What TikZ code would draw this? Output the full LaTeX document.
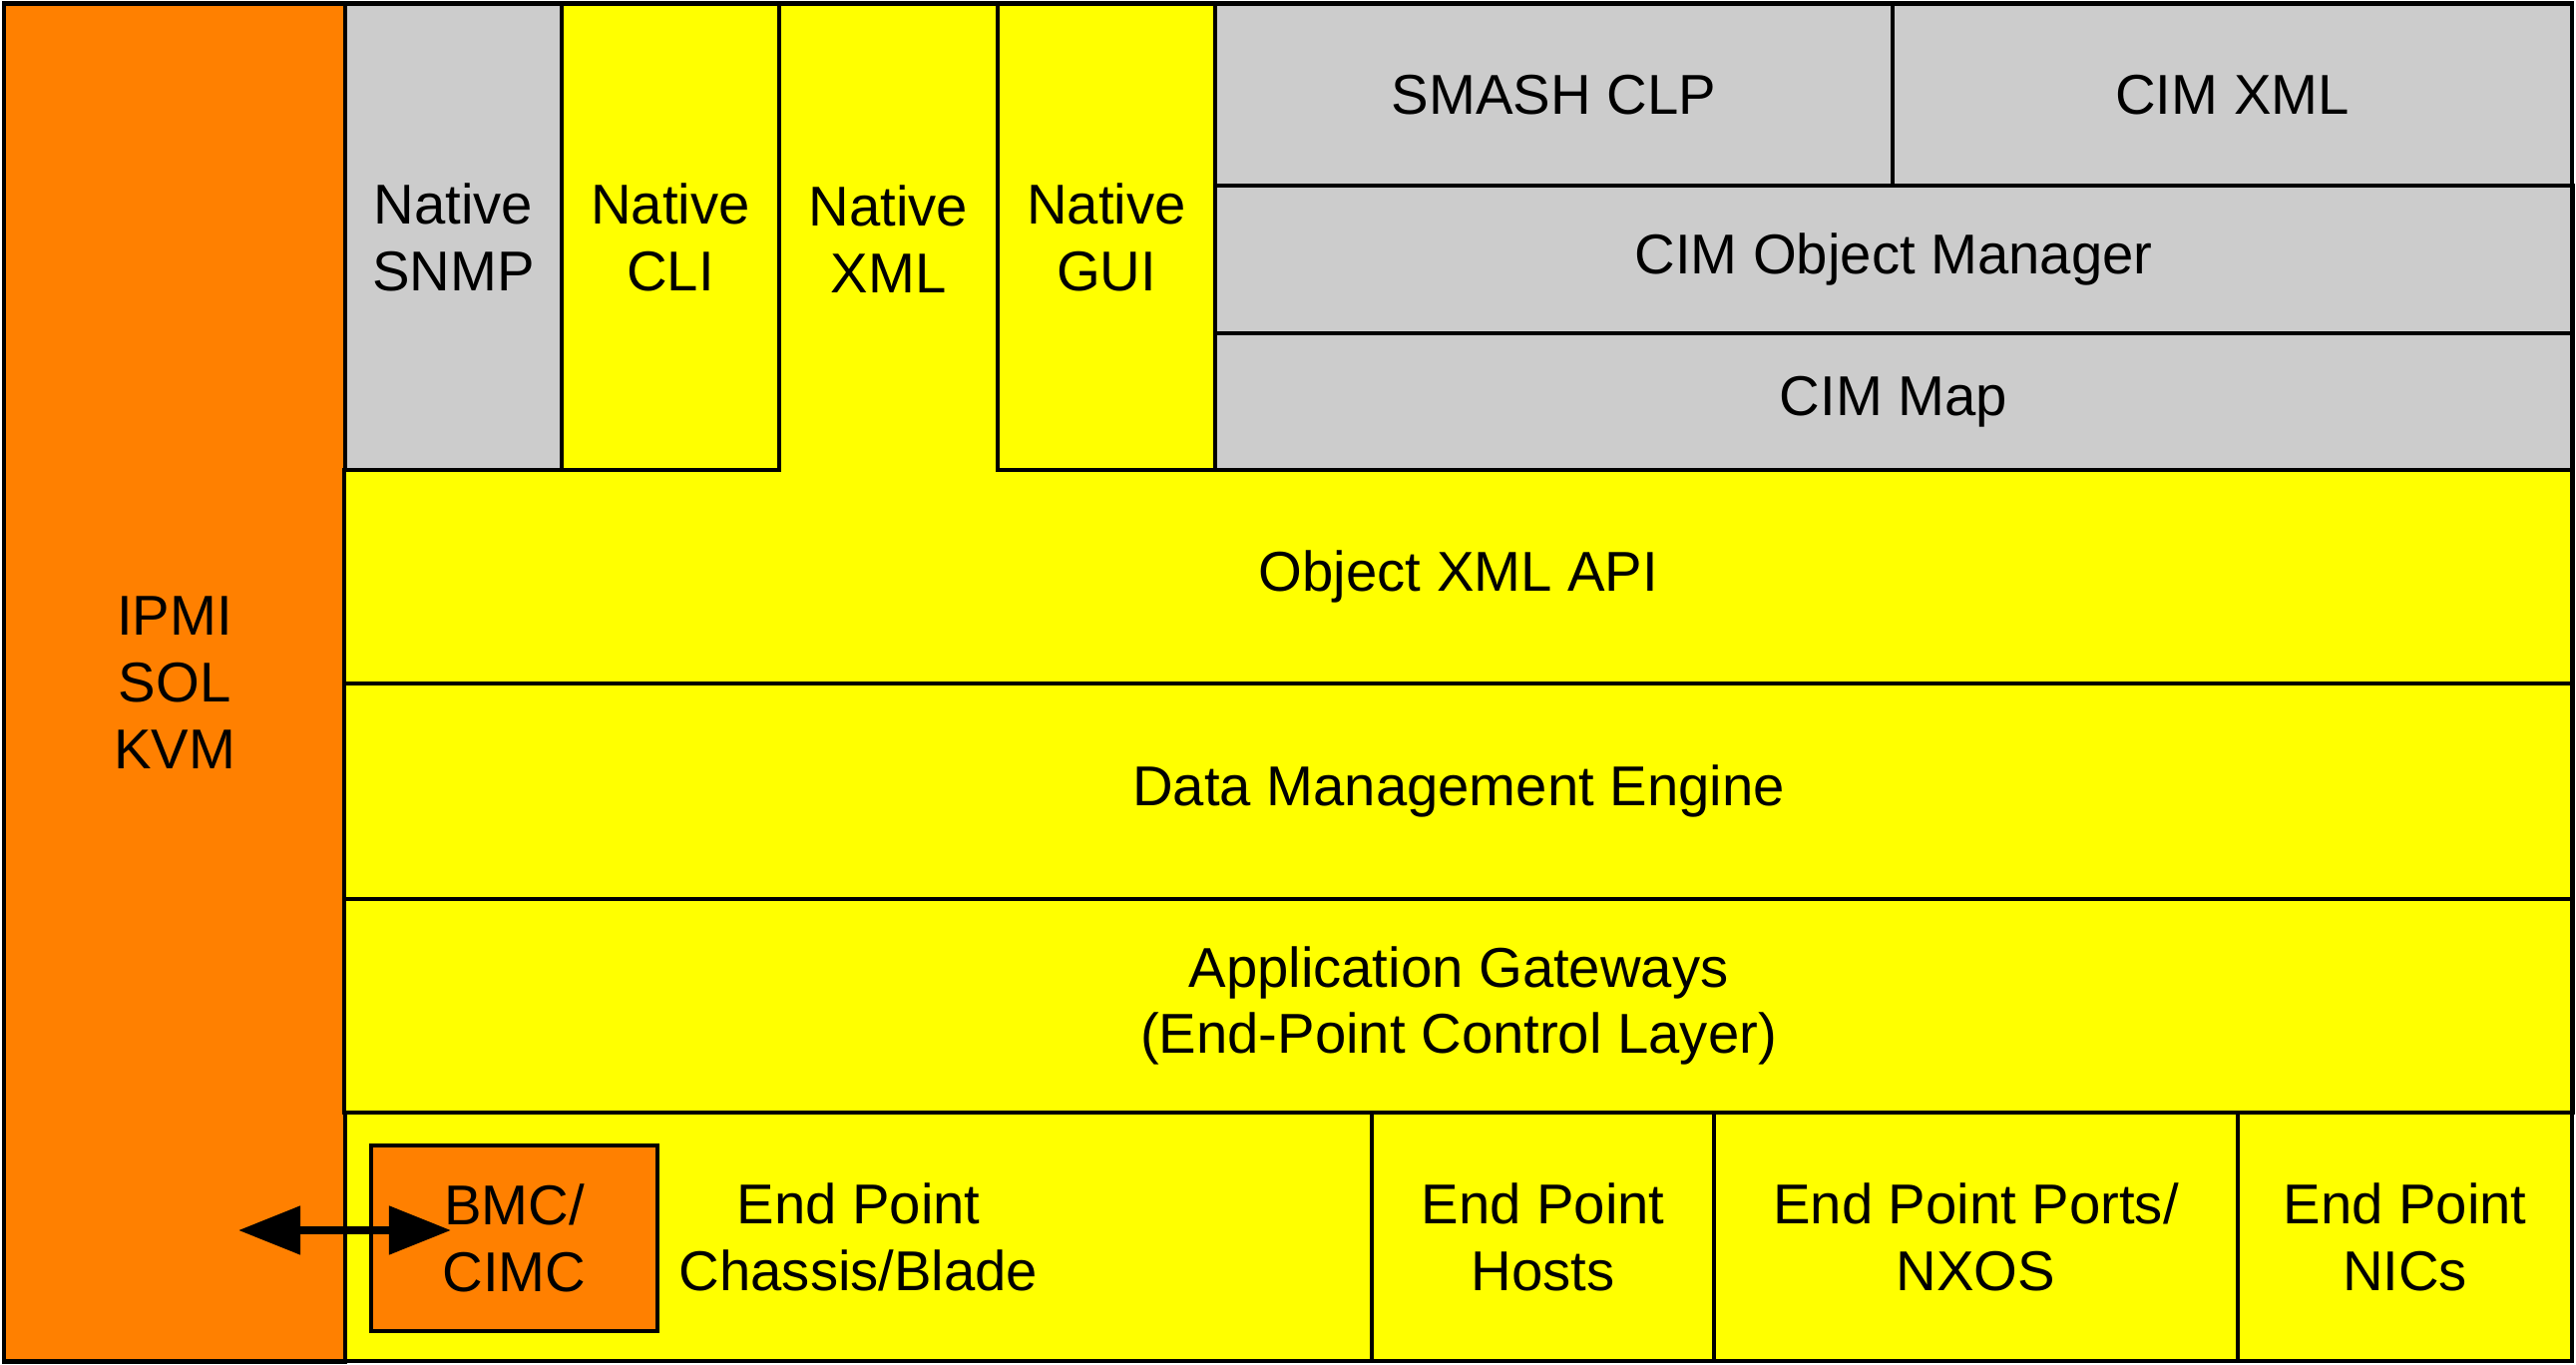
\documentclass[tikz,border=0pt]{standalone}
\usepackage{fontspec}
\setmainfont{Liberation Sans}
\usepackage{tikz}
\usetikzlibrary{arrows.meta}

\definecolor{ucsorange}{HTML}{FF8000}
\definecolor{ucsyellow}{HTML}{FFFF00}
\definecolor{ucsgrey}{HTML}{CCCCCC}

\begin{document}
\begin{tikzpicture}[
  x=0.01cm, y=-0.01cm,
  cell/.style={rectangle, draw, line width=1.2pt, inner sep=0pt, outer sep=0pt, align=center,
    font=\fontsize{16}{19}\selectfont},
  ycell/.style={cell, fill=ucsyellow},
  gcell/.style={cell, fill=ucsgrey},
  ocell/.style={cell, fill=ucsorange},
  dblarrow/.style={{Triangle[length=0.62cm, width=0.47cm]}-{Triangle[length=0.62cm, width=0.47cm]}, line width=2.3pt}
]
  \useasboundingbox (0,0) rectangle (2582,1368);
  \node[ocell, minimum width=3.42cm, minimum height=13.6cm] (ipmi) at (175,684) {IPMI\\SOL\\KVM};
  \node[ycell, minimum width=22.32cm, minimum height=2.14cm] (api) at (1462,578) {Object XML API};
  \node[ycell, draw=none, minimum width=2.19cm, minimum height=4.71cm] (xml) at (890.5,239.5) {Native\\XML};
  \node[gcell, minimum width=2.17cm, minimum height=4.67cm] (snmp) at (454.5,237.5) {Native\\SNMP};
  \node[ycell, minimum width=2.18cm, minimum height=4.67cm] (cli) at (672,237.5) {Native\\CLI};
  \node[ycell, minimum width=2.18cm, minimum height=4.67cm] (gui) at (1109,237.5) {Native\\GUI};
  \node[gcell, minimum width=6.79cm, minimum height=1.82cm] (smash) at (1557.5,95) {SMASH CLP};
  \node[gcell, minimum width=6.81cm, minimum height=1.82cm] (cimxml) at (2237.5,95) {CIM XML};
  \node[gcell, minimum width=13.6cm, minimum height=1.48cm] (cimom) at (1898,260) {CIM Object Manager};
  \node[gcell, minimum width=13.6cm, minimum height=1.37cm] (cimmap) at (1898,402.5) {CIM Map};
  \node[ycell, minimum width=22.32cm, minimum height=2.16cm] (dme) at (1462,793) {Data Management Engine};
  \node[ycell, minimum width=22.32cm, minimum height=2.14cm] (appgw) at (1462,1008) {Application Gateways\\(End-Point Control Layer)};
  \node[ycell, minimum width=10.29cm, minimum height=2.49cm] (chassis) at (860.5,1239.5) {End Point\\Chassis/Blade};
  \node[ycell, minimum width=3.43cm, minimum height=2.49cm] (hosts) at (1546.5,1239.5) {End Point\\Hosts};
  \node[ycell, minimum width=5.25cm, minimum height=2.49cm] (ports) at (1980.5,1239.5) {End Point Ports/\\NXOS};
  \node[ycell, minimum width=3.35cm, minimum height=2.49cm] (nics) at (2410.5,1239.5) {End Point\\NICs};
  \node[ocell, minimum width=2.87cm, minimum height=1.86cm] (bmc) at (515.5,1241) {BMC/\\CIMC};
  % outer frame
  \draw[line width=1.2pt] (ipmi.north west) rectangle (nics.south east);
  \coordinate (ipmiend) at (239,1233);
  \coordinate (bmcend) at (452,1233);
  \draw[dblarrow] (ipmiend) -- (bmcend);
\end{tikzpicture}
\end{document}
